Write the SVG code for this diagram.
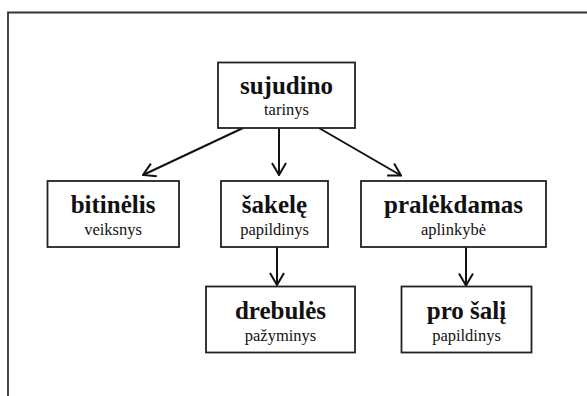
<svg xmlns="http://www.w3.org/2000/svg" width="587" height="396" viewBox="0 0 587 396">
  <style>
    .box { fill: #ffffff; stroke: #222222; stroke-width: 1.8; }
    .title { font-family: "Liberation Serif", "Times New Roman", serif; font-weight: bold; font-size: 25px; fill: #111111; text-anchor: middle; }
    .sub { font-family: "Liberation Serif", "Times New Roman", serif; font-size: 16.5px; fill: #111111; text-anchor: middle; }
    .edge { fill: none; stroke: #111111; stroke-width: 2; marker-end: url(#head); }
    .frame { fill: none; stroke: #333333; stroke-width: 1.8; }
  </style>
  <defs>
    <marker id="head" viewBox="0 0 14 16" refX="13" refY="8" markerWidth="14" markerHeight="16" markerUnits="userSpaceOnUse" orient="auto">
      <path d="M1,1 L13,8 L1,15" fill="none" stroke="#111111" stroke-width="2"/>
    </marker>
  </defs>

  <rect width="587" height="396" fill="#ffffff"/>
  <!-- page frame: top and left edges -->
  <path class="frame" d="M8,396 L8,12.5 L587,12.5"/>

  <g id="connectors">
    <line class="edge" x1="243" y1="128" x2="143" y2="175"/>
    <line class="edge" x1="279" y1="128" x2="279" y2="175"/>
    <line class="edge" x1="319" y1="128" x2="401" y2="175.5"/>
    <line class="edge" x1="277" y1="247" x2="277" y2="285"/>
    <line class="edge" x1="466" y1="247" x2="466" y2="285.5"/>
  </g>

  <g id="sujudino">
    <rect class="box" x="218" y="62.5" width="137" height="65.5"/>
    <text class="title" x="286.5" y="94">sujudino</text>
    <text class="sub" x="286.5" y="115">tarinys</text>
  </g>

  <g id="bitinelis">
    <rect class="box" x="47.5" y="181" width="131.5" height="66"/>
    <text class="title" x="113" y="213">bitinėlis</text>
    <text class="sub" x="113" y="235">veiksnys</text>
  </g>

  <g id="sakele">
    <rect class="box" x="221" y="181" width="107" height="66"/>
    <text class="title" x="274.5" y="213">šakelę</text>
    <text class="sub" x="274.5" y="235">papildinys</text>
  </g>

  <g id="praledamas">
    <rect class="box" x="361" y="181" width="185" height="66"/>
    <text class="title" x="453.5" y="213">pralėkdamas</text>
    <text class="sub" x="453.5" y="235">aplinkybė</text>
  </g>

  <g id="drebules">
    <rect class="box" x="206" y="286.5" width="149" height="66"/>
    <text class="title" x="280.5" y="318.5">drebulės</text>
    <text class="sub" x="280.5" y="340.5">pažyminys</text>
  </g>

  <g id="pro-sali">
    <rect class="box" x="401.5" y="286.5" width="130" height="66"/>
    <text class="title" x="466.5" y="318.5">pro šalį</text>
    <text class="sub" x="466.5" y="340.5">papildinys</text>
  </g>
</svg>
